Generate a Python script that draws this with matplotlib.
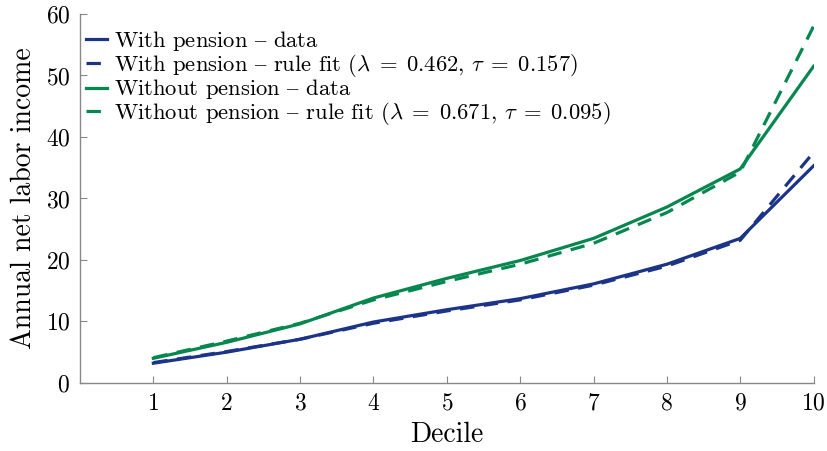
import numpy as np
import matplotlib.pyplot as plt

plt.rcParams['font.family'] = ['cmr10', 'DejaVu Serif']
plt.rcParams['mathtext.fontset'] = 'cm'
plt.rcParams['axes.formatter.use_mathtext'] = True

deciles = np.arange(1, 11)
with_data = [3.2, 5.0, 7.1, 9.9, 11.9, 13.7, 16.1, 19.3, 23.5, 35.3]
with_fit = [3.3, 5.1, 7.1, 9.7, 11.7, 13.5, 15.9, 19.0, 23.2, 37.5]
without_data = [4.0, 6.6, 9.6, 13.8, 17.0, 19.9, 23.5, 28.6, 34.8, 51.5]
without_fit = [4.1, 6.8, 9.7, 13.5, 16.5, 19.3, 22.7, 27.7, 34.3, 58.0]

blue = '#1c3487'
green = '#06874f'
dash = r'$\mathrm{–}$'

fig = plt.figure(figsize=(8.28, 4.51), dpi=100)
ax = fig.add_axes([0.0966, 0.151, 0.886, 0.818])

lw = 2.3
ax.plot(deciles, with_data, color=blue, lw=lw, label='With pension ' + dash + ' data')
ax.plot(deciles, with_fit, color=blue, lw=lw, dashes=(4.5, 3),
        label='With pension ' + dash + r' rule fit ($\lambda\;=\;0.462,\,\tau\;=\;0.157$)')
ax.plot(deciles, without_data, color=green, lw=lw, label='Without pension ' + dash + ' data')
ax.plot(deciles, without_fit, color=green, lw=lw, dashes=(4.5, 3),
        label='Without pension ' + dash + r' rule fit ($\lambda\;=\;0.671,\,\tau\;=\;0.095$)')

ax.set_xlim(0, 10)
ax.set_ylim(0, 60)
ax.set_xticks(deciles)
ax.set_yticks(np.arange(0, 61, 10))
ax.set_xlabel('Decile', fontsize=20, labelpad=5)
ax.set_ylabel('Annual net labor income', fontsize=20, labelpad=6)

for s in ['top', 'right']:
    ax.spines[s].set_visible(False)
for s in ['left', 'bottom']:
    ax.spines[s].set_color('#888888')
    ax.spines[s].set_linewidth(1.0)
ax.tick_params(direction='in', length=5, color='#888888', labelsize=17, pad=7)

ax.legend(loc='upper left', frameon=False, fontsize=16.3, handlelength=0.95,
          handletextpad=0.3, labelspacing=-0.05, borderaxespad=0.0,
          borderpad=0.0, bbox_to_anchor=(0.008, 0.96))

fig.savefig('out.png', dpi=100)
